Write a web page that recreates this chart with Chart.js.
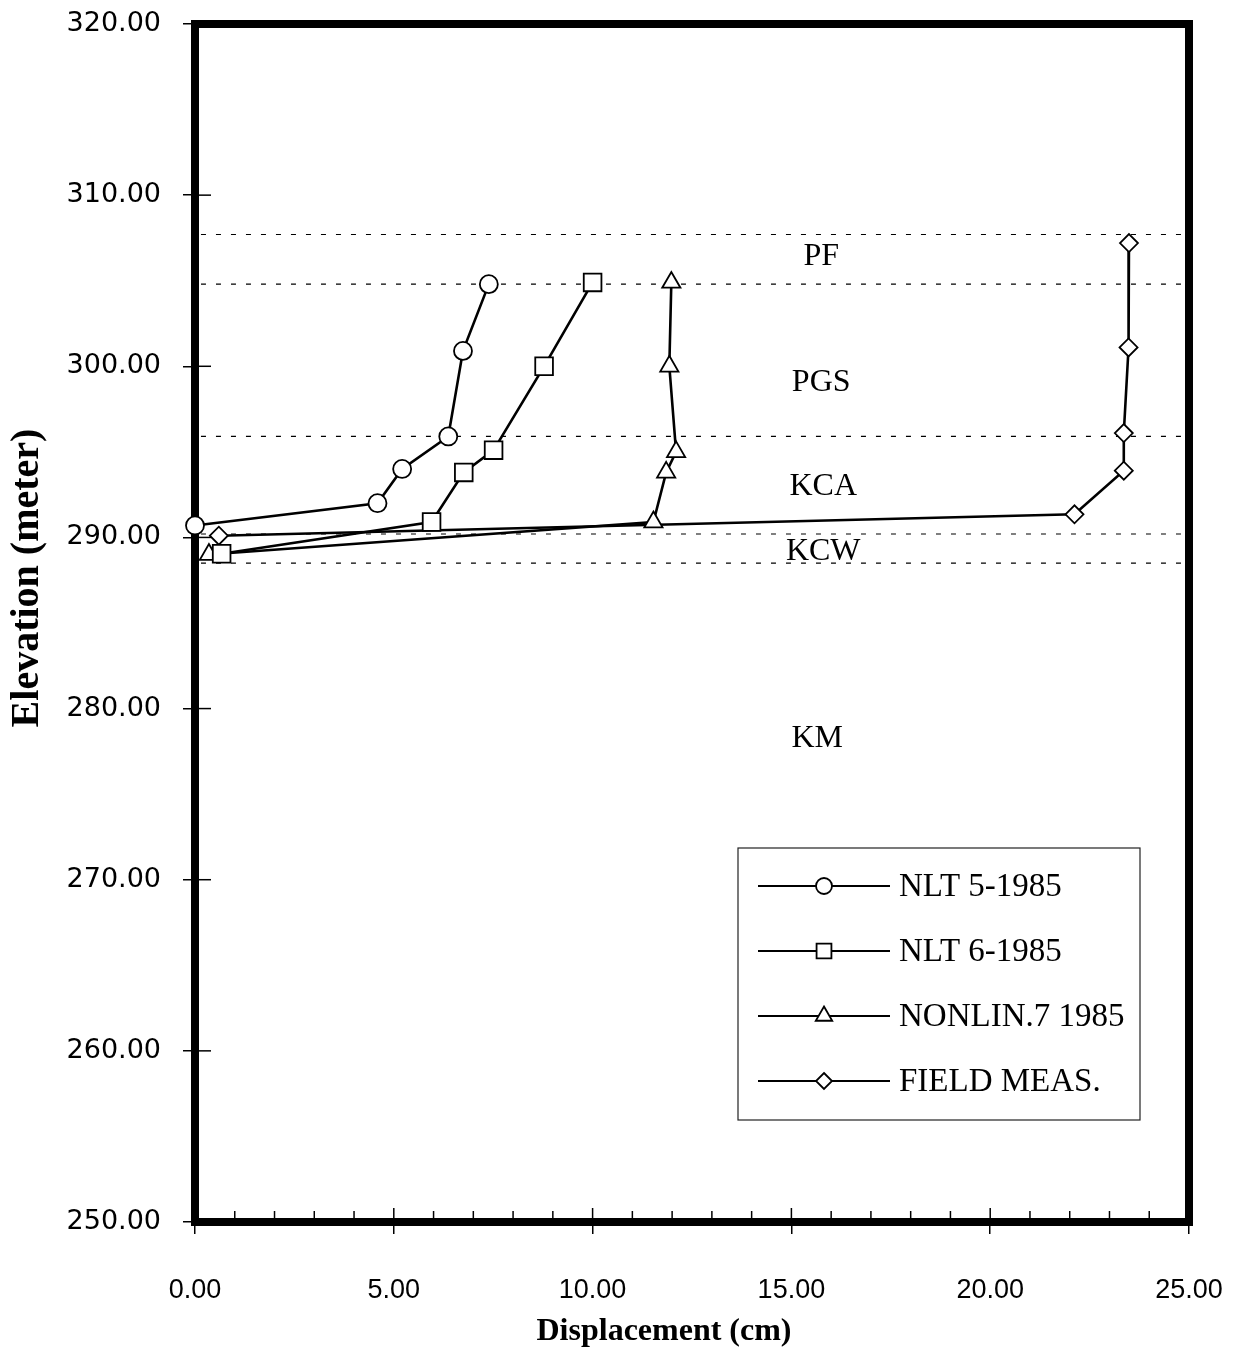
<!DOCTYPE html>
<html><head><meta charset="utf-8">
<style>html,body{margin:0;padding:0;background:#fff;}canvas{display:block;}</style>
<script src="https://cdn.jsdelivr.net/npm/chart.js@4.4.1/dist/chart.umd.min.js"></script>
</head><body>
<canvas id="c" width="1236" height="1351"></canvas>
<script>
// ---------- data ----------
const seriesNames = ['NLT 5-1985', 'NLT 6-1985', 'NONLIN.7 1985', 'FIELD MEAS.'];
const nlt5X = [7.39, 6.74, 6.37, 5.21, 4.59, 0.00];
const nlt5Y = [304.8, 300.9, 295.9, 294.0, 292.0, 290.7];
const nlt6X = [10.00, 8.78, 7.51, 6.76, 5.95, 0.67];
const nlt6Y = [304.9, 300.0, 295.1, 293.8, 290.9, 289.05];
const nonlin7X = [11.98, 11.93, 12.10, 11.85, 11.53, 0.35];
const nonlin7Y = [304.9, 300.0, 295.0, 293.8, 290.9, 289.0];
const fieldX = [23.49, 23.48, 23.36, 23.36, 22.12, 0.60];
const fieldY = [307.2, 301.1, 296.1, 293.9, 291.35, 290.1];
const layerBoundaries = [307.7, 304.8, 295.9, 290.2, 288.5];
const layerNames = ['PF', 'PGS', 'KCA', 'KCW', 'KM'];
const layerLabelElev = [306.4, 299.05, 292.96, 289.15, 278.25];
const layerLabelDisp = [15.75, 15.75, 15.8, 15.8, 15.65];
const xTickLabels = ['0.00', '5.00', '10.00', '15.00', '20.00', '25.00'];
const yTickLabels = ['250.00', '260.00', '270.00', '280.00', '290.00', '300.00', '310.00', '320.00'];

// ---------- build ----------
const toPts = (xs, ys) => xs.map((x, i) => ({x: x, y: ys[i]}));
const styles = ['circle', 'rect', 'triangle', 'rectRot'];
const radii = [9, 12.5, 10.5, 9];
const seriesData = [toPts(nlt5X, nlt5Y), toPts(nlt6X, nlt6Y), toPts(nonlin7X, nonlin7Y), toPts(fieldX, fieldY)];

const datasets = seriesData.map((d, i) => ({
  label: seriesNames[i],
  data: d,
  showLine: true,
  borderColor: '#000',
  borderWidth: 2.6,
  pointStyle: styles[i],
  pointRadius: radii[i],
  pointBackgroundColor: '#fff',
  pointBorderColor: '#000',
  pointBorderWidth: 1.8,
  clip: false,
  order: 0
}));
layerBoundaries.forEach(b => datasets.push({
  label: '',
  data: [{x: 0.15, y: b}, {x: 25, y: b}],
  showLine: true,
  borderColor: '#000',
  borderWidth: 1.2,
  borderDash: [5, 10],
  pointRadius: 0,
  order: 10
}));

const serif = "'Liberation Serif', 'Times New Roman', serif";
const sans = "'Liberation Sans', Arial, sans-serif";
const wideSans = "'DejaVu Sans', 'Liberation Sans', sans-serif";

function marker(ctx, style, r, x, y) {
  ctx.beginPath();
  if (style === 'circle') ctx.arc(x, y, r, 0, Math.PI * 2);
  else if (style === 'rect') { const s = r * Math.SQRT1_2; ctx.rect(x - s, y - s, 2 * s, 2 * s); }
  else if (style === 'triangle') {
    ctx.moveTo(x, y - r);
    ctx.lineTo(x + r * Math.cos(Math.PI / 6), y + r * 0.5);
    ctx.lineTo(x - r * Math.cos(Math.PI / 6), y + r * 0.5);
    ctx.closePath();
  } else { ctx.moveTo(x, y - r); ctx.lineTo(x + r, y); ctx.lineTo(x, y + r); ctx.lineTo(x - r, y); ctx.closePath(); }
  ctx.fillStyle = '#fff'; ctx.fill();
  ctx.lineWidth = 1.8; ctx.strokeStyle = '#000'; ctx.stroke();
}

const framePlugin = {
  id: 'frame',
  beforeDatasetsDraw(chart) {
    const {ctx, chartArea: a, scales} = chart;
    ctx.save();
    ctx.strokeStyle = '#000';
    ctx.lineWidth = 8;
    ctx.strokeRect(a.left, a.top, a.right - a.left, a.bottom - a.top);
    ctx.lineWidth = 1.5;
    for (let v = 250; v <= 320; v += 10) {
      const y = scales.y.getPixelForValue(v);
      ctx.beginPath(); ctx.moveTo(a.left, y); ctx.lineTo(a.left + 16, y); ctx.stroke();
    }
    for (let v = 0; v <= 25; v += 1) {
      const x = scales.x.getPixelForValue(v);
      const len = v % 5 === 0 ? 14 : 11;
      ctx.beginPath(); ctx.moveTo(x, a.bottom); ctx.lineTo(x, a.bottom - len); ctx.stroke();
    }
    ctx.restore();
  },
  afterDatasetsDraw(chart) {
    const {ctx, scales} = chart;
    ctx.save();
    ctx.fillStyle = '#000';
    ctx.font = '32px ' + serif;
    ctx.textAlign = 'center';
    ctx.textBaseline = 'middle';
    layerNames.forEach((n, i) => {
      ctx.fillText(n, scales.x.getPixelForValue(layerLabelDisp[i]), scales.y.getPixelForValue(layerLabelElev[i]));
    });
    // legend
    const L = 738, T = 848, R = 1140, B = 1120;
    ctx.fillStyle = '#fff';
    ctx.fillRect(L, T, R - L, B - T);
    ctx.strokeStyle = '#222';
    ctx.lineWidth = 1.2;
    ctx.strokeRect(L, T, R - L, B - T);
    ctx.font = '33px ' + serif;
    ctx.textAlign = 'left';
    seriesNames.forEach((n, i) => {
      const y = 886 + i * 65;
      ctx.strokeStyle = '#000';
      ctx.lineWidth = 2;
      ctx.beginPath(); ctx.moveTo(758, y); ctx.lineTo(890, y); ctx.stroke();
      marker(ctx, styles[i], [8, 10.5, 9.5, 8][i], 824, y);
      ctx.fillStyle = '#000';
      ctx.fillText(n, 899, y + 1);
    });
    ctx.restore();
  }
};

new Chart(document.getElementById('c'), {
  type: 'scatter',
  data: {datasets: datasets},
  plugins: [framePlugin],
  options: {
    responsive: false,
    maintainAspectRatio: false,
    devicePixelRatio: 1,
    animation: false,
    layout: {padding: {top: 24, right: 47, left: 0, bottom: 0}},
    plugins: {legend: {display: false}, tooltip: {enabled: false}},
    scales: {
      x: {
        type: 'linear', position: 'bottom', min: 0, max: 25,
        afterFit: s => { s.height = 129; s.paddingLeft = 0; s.paddingRight = 0; },
        ticks: {stepSize: 5, padding: 40, color: '#000', font: {family: sans, size: 27},
          callback: (v, i) => xTickLabels[i]},
        grid: {drawOnChartArea: false, drawTicks: true, tickLength: 12, color: '#000', lineWidth: 1.5},
        border: {display: true, color: '#000', width: 8},
        title: {display: true, text: 'Displacement (cm)       ', color: '#000',
          font: {family: serif, size: 32, weight: 'bold'}, padding: {top: 0, bottom: 0}}
      },
      y: {
        type: 'linear', position: 'left', min: 250, max: 320,
        afterFit: s => { s.width = 195; s.paddingTop = 0; s.paddingBottom = 0; },
        ticks: {stepSize: 10, padding: 22, color: '#000', font: {family: wideSans, size: 27},
          callback: (v, i) => yTickLabels[i]},
        grid: {drawOnChartArea: false, drawTicks: true, tickLength: 12, color: '#000', lineWidth: 1.5},
        border: {display: true, color: '#000', width: 8},
        title: {display: true, text: '         Elevation (meter)', color: '#000',
          font: {family: serif, size: 40, weight: 'bold'}, padding: {top: 4, bottom: 0}}
      }
    }
  }
});
</script>
</body></html>
